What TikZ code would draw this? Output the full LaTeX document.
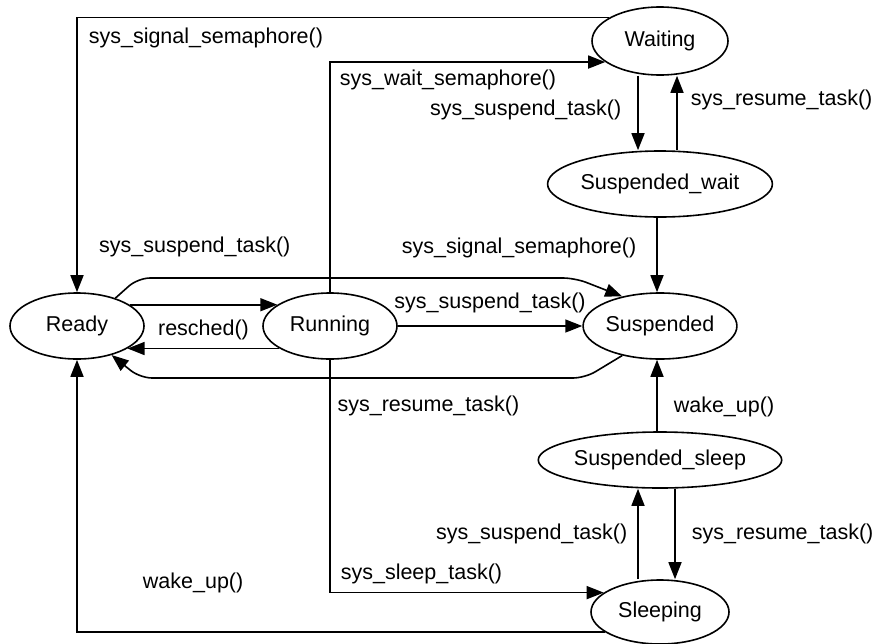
\documentclass[tikz,border=0pt]{standalone}
\usepackage{fontspec}
\setmainfont{Liberation Sans}
\usetikzlibrary{shapes.geometric,arrows.meta,positioning}

\tikzset{
  state/.style={ellipse,draw,line width=1.6pt,inner sep=0pt,minimum height=66pt},
  lbl/.style={inner sep=1pt},
  arr/.style={line width=1.6pt,-{Triangle[length=17pt,width=13pt]}},
}

\begin{document}
\begin{tikzpicture}[x=1pt,y=-1pt,font=\fontsize{21.5}{24}\selectfont]
  \useasboundingbox (0,0) rectangle (878,643);

  % task states
  \node[state,minimum width=134pt] (ready) at (77,326) {Ready};
  \node[state,minimum width=134pt] (running) at (330,326) {Running};
  \node[state,minimum width=134pt] (suspended) at (660,326) {Suspended};
  \node[state,minimum width=136pt,minimum height=68pt] (waiting) at (660,41) {Waiting};
  \node[state,minimum width=190pt] (suspwait) at (660,184) {Suspended\_wait};
  \node[state,minimum width=198pt,minimum height=56pt] (suspsleep) at (660,460) {Suspended\_sleep};
  \node[state,minimum width=138pt,minimum height=64pt] (sleeping) at (660,612) {Sleeping};

  % semaphores
  \draw[arr] (waiting.155) -| node[lbl,pos=.5,anchor=west,xshift=10pt,yshift=-21pt]{sys\_signal\_semaphore()} (ready.north);
  \draw[arr] (running.north) |- node[lbl,pos=.5,anchor=west,xshift=8pt,yshift=-18pt]{sys\_wait\_semaphore()} (waiting.201);
  \draw[arr] ([xshift=-22pt]waiting.south) -- node[lbl,pos=.46,left=15pt]{sys\_suspend\_task()} ([xshift=-22pt]suspwait.north);
  \draw[arr] ([xshift=17pt]suspwait.north) -- node[lbl,pos=.67,right=12pt]{sys\_resume\_task()} ([xshift=17pt]waiting.south);
  \draw[arr] ([xshift=-3pt]suspwait.south) -- node[lbl,pos=.41,left=19pt]{sys\_signal\_semaphore()} ([xshift=-3pt]suspended.north);

  % ready / running / suspended
  \draw[arr,rounded corners=12pt] (ready.36) -- (138,278) -- node[lbl,pos=.13,above=19pt]{sys\_suspend\_task()} (575,278) -- (suspended.142);
  \draw[arr] (ready.22) -- node[lbl,below=13pt]{resched()} (running.158);
  \draw[arr] (running.204) -- (ready.336);
  \draw[arr] (running.east) -- node[lbl,above=11pt]{sys\_suspend\_task()} (suspended.west);
  \draw[arr,rounded corners=12pt] (suspended.218) -- (585,378) -- node[lbl,pos=.56,anchor=north west,yshift=-16pt]{sys\_resume\_task()} (140,378) -- (ready.320);

  % sleeping
  \draw[arr] (running.south) |- node[lbl,pos=.5,anchor=west,xshift=9pt,yshift=19pt]{sys\_sleep\_task()} (sleeping.161);
  \draw[arr] (sleeping.200) -| node[lbl,pos=.39,above=37pt]{wake\_up()} (ready.south);
  \draw[arr] ([xshift=-22pt]sleeping.north) -- node[lbl,left=9pt]{sys\_suspend\_task()} ([xshift=-22pt]suspsleep.south);
  \draw[arr] ([xshift=15pt]suspsleep.south) -- node[lbl,right=15pt]{sys\_resume\_task()} ([xshift=15pt]sleeping.north);
  \draw[arr] ([xshift=-3pt]suspsleep.north) -- node[lbl,pos=.34,right=15pt]{wake\_up()} ([xshift=-3pt]suspended.south);
\end{tikzpicture}
\end{document}
